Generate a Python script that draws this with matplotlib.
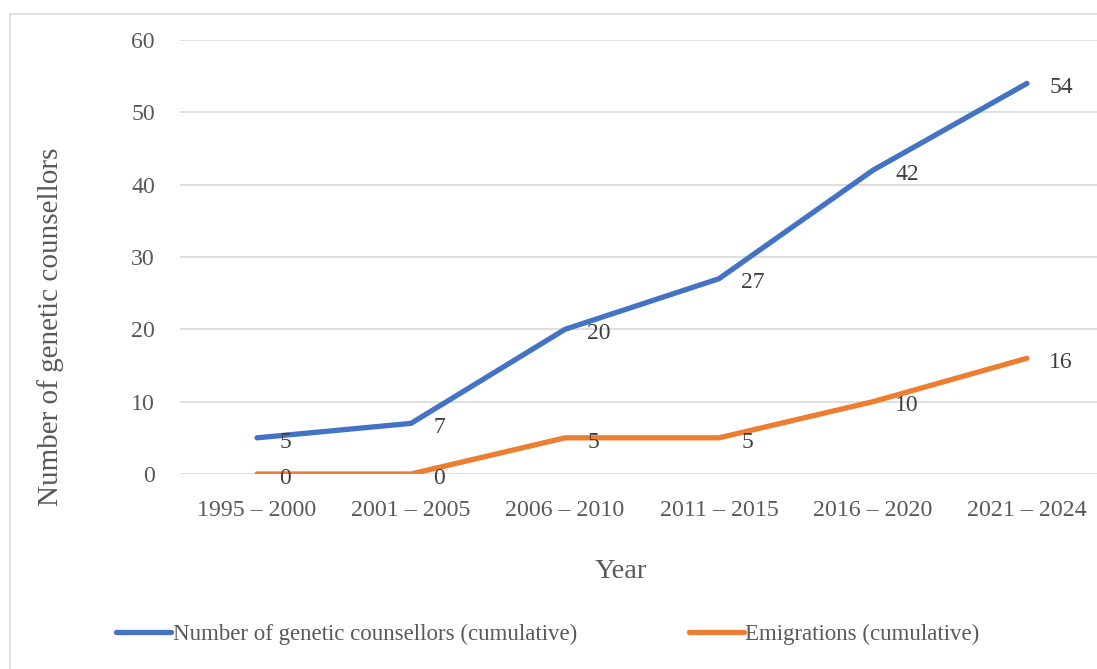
import matplotlib
matplotlib.use("Agg")
import matplotlib.pyplot as plt
from matplotlib.patches import Rectangle
from matplotlib.lines import Line2D

categories = ["1995 – 2000", "2001 – 2005", "2006 – 2010", "2011 – 2015", "2016 – 2020", "2021 – 2024"]
counsellors = [5, 7, 20, 27, 42, 54]
emigrations = [0, 0, 5, 5, 10, 16]
series_names = ["Number of genetic counsellors (cumulative)", "Emigrations (cumulative)"]
yticks = [0, 10, 20, 30, 40, 50, 60]

plt.rcParams['font.family'] = ['Liberation Serif', 'DejaVu Serif']
TXT = '#595959'
BLUE = '#4472C4'
ORANGE = '#ED7D31'
GRID = '#D9D9D9'

W, H = 1097, 669
fig = plt.figure(figsize=(W/100, H/100), dpi=100)

# outer chart border (partially cropped in reference)
fig.patches.append(Rectangle((10/W, -0.1), 1.2, (H-14)/H + 0.1, transform=fig.transFigure,
                             fill=False, edgecolor=GRID, linewidth=1.2))

left, right = 180/W, 1104/W
bottom, top = (H-474)/H, (H-40)/H
ax = fig.add_axes([left, bottom, right-left, top-bottom])

x = list(range(len(categories)))
ax.plot(x, counsellors, color=BLUE, lw=3.8, solid_capstyle='round', solid_joinstyle='round', zorder=3)
ax.plot(x, emigrations, color=ORANGE, lw=3.8, solid_capstyle='round', solid_joinstyle='round', zorder=3)

for series in (counsellors, emigrations):
    for xi, v in zip(x, series):
        ax.annotate(str(v), (xi, v), xytext=(16, -3), textcoords='offset points',
                    ha='left', va='center', fontsize=17, color='#404040', zorder=4)

ax.set_xlim(-0.5, len(categories)-0.5)
ax.set_ylim(0, 60)
ax.set_yticks(yticks)
ax.set_xticks(x)
ax.set_xticklabels(categories)
ax.tick_params(axis='both', length=0, labelsize=17.2, labelcolor=TXT)
ax.tick_params(axis='y', pad=18)
ax.tick_params(axis='x', pad=19)
ax.grid(axis='y', color=GRID, lw=1.2)
ax.set_axisbelow(True)
for s in ax.spines.values():
    s.set_visible(False)

fig.text(621/W, 1 - 571/H, "Year", fontsize=20.5, color=TXT, ha='center', va='center')
fig.text(51/W, 1 - 327/H, "Number of genetic counsellors", rotation=90, fontsize=21,
         color=TXT, ha='center', va='center')

handles = [Line2D([], [], color=BLUE, lw=3.8, solid_capstyle='round'),
           Line2D([], [], color=ORANGE, lw=3.8, solid_capstyle='round')]
fig.legend(handles, series_names, loc='center', bbox_to_anchor=(548/W, 1 - 634/H),
           ncol=2, frameon=False, fontsize=16.5, labelcolor=TXT,
           handlelength=2.4, handletextpad=0.05, columnspacing=4.9)

fig.savefig("out.png", dpi=100)
